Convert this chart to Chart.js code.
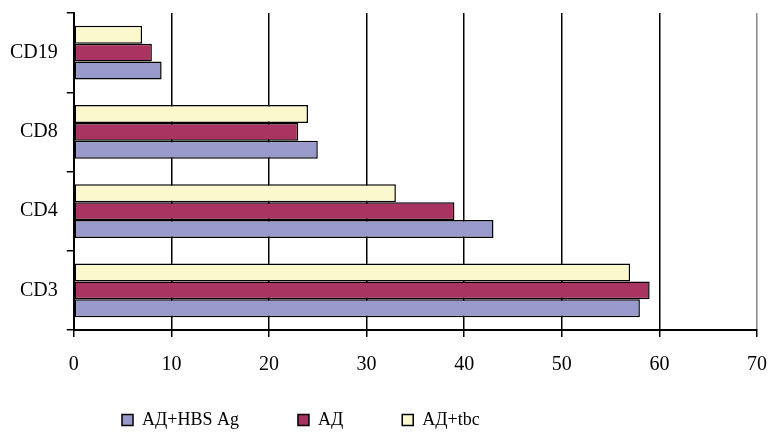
<!DOCTYPE html>
<html lang="ru">

<head>
  <meta charset="UTF-8" />
  <title>CD</title>
  <script src="https://cdn.jsdelivr.net/npm/chart.js@4.4.1/dist/chart.umd.min.js"></script>
  <style>
    html, body { margin: 0; padding: 0; background: #fff; }
    #wrap { width: 769px; height: 432px; }
  </style>
</head>

<body>
  <div id="wrap"><canvas id="cdChart"></canvas></div>

  <script>
    // categories top -> bottom
    const categories = ["CD19", "CD8", "CD4", "CD3"];
    const hbsAg = [9, 25, 43, 58];   // АД+HBS Ag
    const ad = [8, 23, 39, 59];      // АД
    const tbc = [7, 24, 33, 57];     // АД+tbc
    const xTicks = [0, 10, 20, 30, 40, 50, 60, 70];

    Chart.defaults.font.family = "'Liberation Serif', 'Times New Roman', serif";
    Chart.defaults.color = "#000";

    // legend sits lower and further left than chart.js would put it
    const legendPlace = {
      id: "legendPlace",
      afterLayout(chart) {
        const lg = chart.legend;
        lg.left = 122 - lg.options.labels.padding;
        lg.top = 411 - lg.options.labels.padding;
      }
    };

    // datasets in reverse so tbc bar is on top inside each group
    const config = {
      type: "bar",
      data: {
        labels: categories,
        datasets: [{
          label: "АД+tbc",
          data: tbc,
          backgroundColor: "#FBF8CD",
        }, {
          label: "АД",
          data: ad,
          backgroundColor: "#A93361",
        }, {
          label: "АД+HBS Ag",
          data: hbsAg,
          backgroundColor: "#9999CC",
        }],
      },
      options: {
        indexAxis: "y",
        responsive: true,
        maintainAspectRatio: false,
        animation: false,
        layout: { padding: { top: 13, left: 1, right: 2, bottom: 0 } },
        datasets: {
          bar: {
            borderColor: "#000",
            borderWidth: 1.5,
            borderSkipped: false,
            categoryPercentage: 0.68,
            barPercentage: 1,
          }
        },
        scales: {
          x: {
            min: 0,
            max: 70,
            afterBuildTicks: (axis) => { axis.ticks = xTicks.map(v => ({ value: v })); },
            grid: {
              color: (c) => c.tick && c.tick.value === 70 ? "#888" : "#000",
              tickColor: "#000",
              lineWidth: 1.5,
              tickLength: 7,
            },
            border: { color: "#000", width: 2 },
            ticks: { font: { size: 20, lineHeight: 2.6 }, padding: 2, maxRotation: 0 },
          },
          y: {
            grid: {
              offset: true,
              drawOnChartArea: false,
              color: "#000",
              lineWidth: 1.5,
              tickLength: 7,
            },
            border: { color: "#000", width: 2 },
            ticks: { font: { size: 20, lineHeight: 0.4 }, padding: 9 },
          },
        },
        plugins: {
          tooltip: { enabled: false },
          legend: {
            position: "bottom",
            align: "start",
            reverse: true,
            maxHeight: 39,
            labels: {
              boxWidth: 11,
              boxHeight: 11,
              padding: 59,
              color: "#000",
              font: { size: 18 },
            },
          },
        },
      },
      plugins: [legendPlace],
    };

    const cdChart = new Chart(document.getElementById("cdChart").getContext("2d"), config);
  </script>
</body>

</html>
